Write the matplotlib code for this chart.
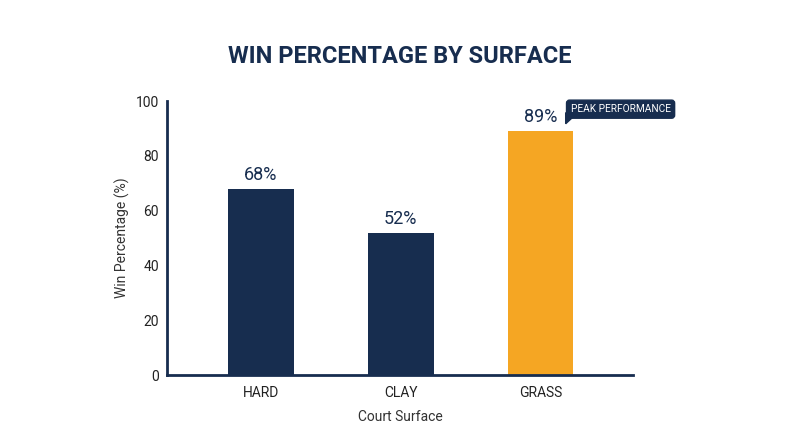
import matplotlib
matplotlib.use("Agg")
import matplotlib.pyplot as plt
from matplotlib.patches import Polygon

surfaces = ["HARD", "CLAY", "GRASS"]
win_pct = [68, 52, 89]
bar_colors = ["#172d4f", "#172d4f", "#f5a623"]
highlight = "PEAK PERFORMANCE"

NAVY = "#172d4f"

plt.rcParams["font.family"] = ["Roboto", "DejaVu Sans"]

fig = plt.figure(figsize=(8, 4.47), dpi=100)
ax = fig.add_axes([0.209, 0.161, 0.582, 0.613])

x = range(len(surfaces))
bars = ax.bar(x, win_pct, width=0.47, color=bar_colors)

ax.set_xlim(-0.67, 2.66)
ax.set_ylim(0, 100)
ax.set_yticks([0, 20, 40, 60, 80, 100])
ax.set_xticks(list(x))
ax.set_xticklabels(surfaces)
ax.tick_params(length=0, labelsize=10, colors="#222222")
ax.tick_params(axis="x", pad=8)
ax.tick_params(axis="y", pad=6)

for s in ["top", "right"]:
    ax.spines[s].set_visible(False)
for s in ["left", "bottom"]:
    ax.spines[s].set_color(NAVY)
    ax.spines[s].set_linewidth(2)

ax.set_xlabel("Court Surface", fontsize=10, color="#333333", labelpad=7)
ax.set_ylabel("Win Percentage (%)", fontsize=10, color="#333333", labelpad=4)

for b, v in zip(bars, win_pct):
    ax.text(b.get_x() + b.get_width() / 2, v + 1.8, f"{v}%",
            ha="center", va="bottom", fontsize=13, fontweight="normal",
            color=NAVY)

# callout on the best surface
i = win_pct.index(max(win_pct))
bx = bars[i].get_x() + bars[i].get_width() - 0.02
by = win_pct[i] + 6.2
ax.text(bx, by, highlight, ha="left", va="bottom", fontsize=7.3,
        color="white", clip_on=False,
        bbox=dict(boxstyle="round,pad=0.4,rounding_size=0.3",
                  fc=NAVY, ec=NAVY))
ax.add_patch(Polygon([(bx - 0.035, by + 0.5), (bx + 0.05, by + 0.5),
                      (bx - 0.035, by - 3.5)], closed=True, color=NAVY,
                     clip_on=False))

fig.suptitle("WIN PERCENTAGE BY SURFACE", x=0.5, y=0.9, fontsize=17,
             fontweight="bold", color=NAVY)

fig.savefig("out.png", dpi=100)
